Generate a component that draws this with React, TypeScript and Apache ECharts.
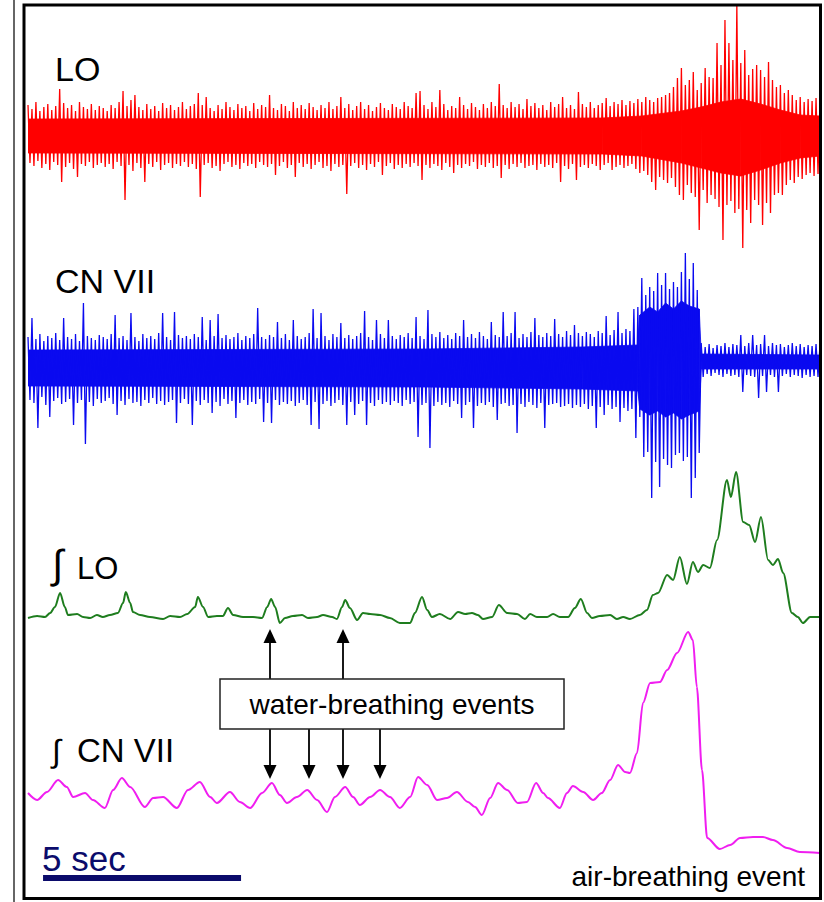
import React, { useEffect, useRef } from "react";
import * as echarts from "echarts";

// ---- raw nerve traces: per 0.1 s bin, max (hi) and min (lo) amplitude (a.u.) ----
const BIN = 0.1;

const loHi = [
  30, 26, 33, 24, 28, 31, 25, 29, 46, 32, 27, 30, 24, 33, 28, 26, 31, 25, 29, 27,
  24, 30, 27, 33, 44, 29, 35, 40, 28, 25, 31, 26, 29, 24, 32, 27, 30, 25, 28, 33,
  26, 29, 31, 42, 30, 38, 27, 24, 30, 26, 33, 28, 25, 31, 27, 29, 24, 32, 26, 30,
  28, 40, 27, 25, 31, 29, 24, 33, 27, 30, 26, 32, 28, 25, 30, 27, 33, 26, 29, 38,
  27, 31, 25, 29, 33, 26, 30, 24, 28, 32, 27, 25, 31, 28, 26, 33, 29, 27, 42, 44,
  30, 26, 33, 28, 45, 31, 25, 29, 27, 38, 30, 26, 32, 28, 25, 31, 27, 33, 29, 51,
  30, 27, 33, 28, 31, 26, 36, 29, 32, 27, 30, 25, 33, 28, 31, 38, 27, 30, 26, 43,
  31, 28, 33, 27, 30, 32, 37, 29, 33, 31, 35, 30, 34, 32, 36, 33, 38, 35, 33, 37,
  38, 40, 42, 48, 57, 67, 50, 55, 63, 45, 52, 67, 58, 57, 92, 70, 115, 92, 75, 130,
  72, 85, 60, 66, 70, 65, 58, 73, 55, 48, 50, 42, 45, 40, 35, 38, 33, 36, 34, 37, 35,
];
const loLo = [
  -28, -31, -26, -33, -29, -35, -27, -30, -47, -32, -28, -34, -42, -29, -31, -27, -33, -30, -28, -32,
  -29, -34, -27, -31, -65, -30, -36, -28, -33, -47, -29, -32, -27, -35, -30, -28, -33, -29, -31, -27,
  -32, -29, -34, -62, -30, -28, -33, -31, -36, -29, -27, -32, -30, -34, -28, -31, -29, -33, -27, -30,
  -32, -29, -40, -31, -27, -33, -30, -42, -28, -32, -29, -34, -30, -27, -33, -31, -36, -29, -32, -30,
  -59, -31, -28, -33, -30, -35, -29, -32, -27, -40, -31, -28, -34, -30, -33, -29, -32, -28, -31, -45,
  -30, -33, -29, -31, -35, -28, -32, -38, -30, -33, -29, -31, -27, -34, -30, -32, -28, -33, -31, -43,
  -30, -34, -29, -32, -28, -33, -31, -30, -35, -29, -32, -30, -33, -28, -47, -31, -34, -29, -45, -32,
  -30, -33, -29, -31, -35, -30, -28, -35, -32, -30, -33, -31, -29, -34, -38, -36, -40, -47, -55, -42,
  -45, -48, -43, -52, -60, -65, -50, -58, -62, -95, -55, -68, -60, -64, -72, -105, -70, -66, -78, -74,
  -113, -75, -88, -65, -70, -90, -68, -78, -60, -58, -60, -50, -45, -48, -42, -44, -40, -38, -41, -39, -38,
];
const loCoreT = [0, 14.5, 15.5, 16.5, 17.0, 17.5, 18, 18.5, 19, 19.5, 20];
const loCoreHi = [16, 17, 19, 24, 28, 33, 36, 31, 25, 20, 19];
const loCoreLo = [-18, -19, -21, -28, -33, -38, -41, -35, -28, -23, -21];

const cnHi = [
  30, 49, 28, 33, 26, 31, 29, 34, 27, 49, 30, 28, 33, 26, 64, 31, 29, 27, 32, 30,
  28, 33, 52, 29, 31, 27, 54, 30, 26, 33, 29, 31, 28, 34, 54, 30, 27, 55, 32, 29,
  31, 28, 33, 30, 50, 27, 47, 31, 53, 29, 32, 28, 30, 34, 27, 31, 29, 33, 59, 30,
  28, 32, 30, 45, 29, 33, 27, 47, 31, 28, 30, 34, 58, 29, 54, 31, 27, 33, 30, 44,
  29, 32, 28, 31, 34, 56, 30, 27, 47, 33, 29, 47, 31, 28, 32, 30, 34, 29, 50, 31,
  28, 57, 33, 30, 35, 29, 32, 28, 34, 31, 47, 30, 33, 29, 35, 31, 28, 45, 32, 30,
  55, 31, 34, 55, 29, 33, 30, 35, 49, 32, 30, 34, 31, 48, 33, 30, 36, 32, 42, 34,
  31, 35, 33, 30, 36, 34, 51, 32, 37, 55, 34, 38, 36, 58, 60, 89, 72, 80, 76, 94,
  82, 94, 78, 85, 80, 95, 114, 88, 104, 77, 24, 20, 23, 19, 22, 21, 24, 20, 23, 22,
  32, 21, 24, 32, 22, 23, 32, 21, 24, 22, 23, 20, 22, 24, 21, 23, 20, 22, 21, 23, 22,
];
const cnLo = [
  -33, -36, -61, -30, -38, -50, -34, -31, -37, -35, -32, -58, -36, -33, -77, -35, -39, -32, -36, -34,
  -31, -37, -48, -34, -38, -32, -36, -35, -39, -33, -36, -31, -37, -34, -38, -35, -33, -56, -36, -32,
  -37, -58, -34, -38, -33, -36, -46, -35, -39, -32, -37, -34, -51, -36, -33, -38, -35, -37, -32, -55,
  -36, -56, -33, -38, -35, -37, -34, -39, -36, -33, -38, -58, -35, -62, -37, -34, -39, -36, -33, -38,
  -58, -35, -48, -37, -34, -58, -36, -39, -33, -37, -35, -38, -34, -36, -39, -33, -37, -35, -70, -38,
  -36, -81, -39, -35, -38, -36, -40, -34, -37, -51, -38, -35, -61, -39, -36, -38, -35, -40, -53, -37,
  -36, -39, -38, -66, -37, -40, -35, -38, -41, -36, -61, -38, -37, -36, -40, -39, -37, -41, -38, -40,
  -37, -42, -39, -61, -40, -48, -38, -42, -40, -55, -41, -44, -42, -71, -50, -90, -85, -131, -95, -120,
  -92, -98, -101, -88, -86, -94, -90, -131, -111, -86, -10, -7, -9, -6, -8, -10, -7, -9, -8, -10,
  -25, -8, -9, -10, -31, -9, -25, -8, -10, -25, -9, -7, -10, -8, -9, -11, -8, -10, -9, -10, -9,
];
const cnCoreT = [0, 10, 14, 15.4, 15.45, 15.7, 15.9, 16.1, 16.3, 16.5, 16.7, 16.95, 17.0, 20];
const cnCoreHi = [17, 18, 20, 22, 52, 60, 55, 64, 58, 66, 61, 58, 13, 12];
const cnCoreLo = [-19, -20, -22, -24, -42, -48, -44, -50, -46, -52, -48, -44, -2, -2];

// ---- integrated LO (time s, value a.u.) ----
const intLoT = [
  0.0, 0.23, 0.43, 0.56, 0.68, 0.81, 0.93, 1.01, 1.24, 1.39,
  1.57, 1.74, 1.89, 2.07, 2.27, 2.4, 2.47, 2.58, 2.65, 2.83,
  3.08, 3.41, 3.59, 3.84, 4.02, 4.22, 4.29, 4.42, 4.55, 4.77,
  4.92, 5.05, 5.18, 5.43, 5.68, 5.91, 6.04, 6.14, 6.24, 6.36,
  6.49, 6.69, 6.92, 7.07, 7.3, 7.45, 7.68, 7.8, 7.93, 8.01,
  8.13, 8.31, 8.46, 8.64, 8.89, 9.14, 9.39, 9.65, 9.77, 9.95,
  10.08, 10.2, 10.4, 10.66, 10.86, 11.04, 11.21, 11.36, 11.49, 11.72,
  11.89, 12.1, 12.35, 12.55, 12.68, 12.85, 13.11, 13.26, 13.43, 13.64,
  13.81, 13.96, 14.12, 14.24, 14.44, 14.7, 14.87, 15.03, 15.2, 15.45,
  15.63, 15.78, 15.91, 16.14, 16.29, 16.46, 16.64, 16.79, 16.92, 17.05,
  17.22, 17.4, 17.65, 17.75, 17.88, 18.06, 18.21, 18.36, 18.51, 18.69,
  18.81, 18.94, 19.07, 19.29, 19.44, 19.57, 19.75, 20.0,
];
const intLoV = [
  2.2, 2.4, 2.3, 2.7, 3.3, 4.7, 3.3, 2.5, 2.6, 2.3,
  2.2, 2.5, 2.3, 2.5, 2.7, 3.7, 4.8, 3.7, 2.8, 2.5,
  2.3, 2.1, 2.4, 2.3, 2.6, 3.3, 4.3, 3.3, 2.3, 2.4,
  2.4, 3.2, 2.5, 2.3, 2.3, 2.2, 3.3, 4.1, 3.3, 1.7,
  2.2, 2.4, 2.5, 2.2, 2.3, 2.5, 2.3, 2.1, 3.3, 4.0,
  3.2, 2.0, 2.7, 2.6, 2.5, 2.2, 1.7, 1.7, 2.7, 4.3,
  3.0, 2.3, 2.6, 2.1, 2.8, 2.6, 2.7, 2.5, 2.1, 2.3,
  3.5, 2.7, 2.6, 2.1, 2.6, 2.3, 2.3, 2.6, 2.3, 2.3,
  3.2, 4.1, 2.7, 2.2, 2.4, 2.5, 2.1, 2.3, 2.1, 2.5,
  3.0, 4.5, 4.7, 6.5, 6.0, 8.3, 5.6, 7.8, 6.8, 7.5,
  7.2, 10.0, 16.0, 14.3, 16.8, 11.8, 11.5, 9.8, 12.3, 8.0,
  7.5, 8.1, 6.7, 2.7, 2.3, 1.7, 2.3, 2.3,
];

// ---- integrated CN VII (time s, value a.u.) ----
const intCnT = [
  0.0, 0.23, 0.48, 0.76, 0.98, 1.14, 1.44, 1.64, 1.94, 2.15,
  2.37, 2.58, 2.95, 3.16, 3.41, 3.76, 4.04, 4.34, 4.6, 4.77,
  5.1, 5.35, 5.61, 5.91, 6.16, 6.36, 6.54, 6.79, 7.05, 7.3,
  7.55, 7.75, 8.01, 8.21, 8.38, 8.64, 8.89, 9.14, 9.39, 9.65,
  9.85, 10.08, 10.33, 10.58, 10.83, 11.11, 11.29, 11.46, 11.67, 11.87,
  12.1, 12.37, 12.6, 12.83, 13.01, 13.13, 13.43, 13.61, 13.76, 14.02,
  14.27, 14.49, 14.7, 14.9, 15.08, 15.2, 15.38, 15.53, 15.71, 15.96,
  16.14, 16.39, 16.67, 16.79, 16.89, 17.02, 17.15, 17.47, 17.73, 17.98,
  18.31, 18.56, 18.81, 19.17, 19.49, 20.0,
];
const intCnV = [
  7.7, 7.0, 7.8, 9.0, 8.3, 7.3, 7.7, 7.0, 6.2, 8.0,
  9.2, 8.3, 6.3, 7.2, 7.3, 6.2, 8.0, 8.8, 7.3, 6.7,
  7.8, 6.8, 6.2, 7.7, 8.7, 7.5, 6.7, 7.3, 8.0, 7.0,
  5.8, 7.3, 8.3, 7.3, 6.5, 7.3, 8.0, 7.3, 6.2, 7.3,
  9.3, 8.5, 7.0, 7.2, 7.8, 6.8, 6.3, 5.5, 7.2, 8.7,
  8.0, 6.7, 6.8, 8.7, 7.7, 7.2, 6.2, 7.7, 8.4, 7.8,
  7.0, 7.7, 9.0, 10.5, 9.8, 9.7, 11.7, 16.7, 18.7, 18.8,
  20.0, 21.7, 23.8, 23.0, 18.3, 10.0, 3.2, 2.1, 2.5, 3.2,
  3.3, 3.3, 3.0, 2.2, 1.8, 1.7,
];

// ---- scale bar (seconds) ----
const scaleBarT = [0.38, 5.38];

const FONT = '"Liberation Sans", Arial, sans-serif';

function zigzag(hi: number[], lo: number[]) {
  const out: number[][] = [];
  for (let i = 0; i < hi.length; i++) {
    out.push([i * BIN, hi[i]]);
    out.push([i * BIN + BIN / 2, lo[i]]);
  }
  return out;
}
function pairs(t: number[], v: number[]) {
  return t.map((x, i) => [x, v[i]]);
}
function bandItems(t: number[], hi: number[], lo: number[]) {
  const items: number[][] = [];
  for (let i = 0; i < t.length - 1; i++) {
    items.push([t[i], hi[i], lo[i], t[i + 1], hi[i + 1], lo[i + 1]]);
  }
  return items;
}
function bandSeries(idx: number, color: string, t: number[], hi: number[], lo: number[]) {
  return {
    type: "custom",
    xAxisIndex: idx,
    yAxisIndex: idx,
    clip: true,
    silent: true,
    data: bandItems(t, hi, lo),
    renderItem: (_p: any, api: any) => {
      const a = api.coord([api.value(0), api.value(1)]);
      const b = api.coord([api.value(3), api.value(4)]);
      const c = api.coord([api.value(3), api.value(5)]);
      const d = api.coord([api.value(0), api.value(2)]);
      return {
        type: "polygon",
        shape: { points: [a, b, c, d] },
        style: { fill: color, stroke: color, lineWidth: 0.8 },
      };
    },
  };
}

export default function App() {
  const ref = useRef<HTMLDivElement>(null);
  useEffect(() => {
    if (!ref.current) return;
    const chart = echarts.init(ref.current, null, { renderer: "svg" });
    const L = 28;
    const W = 792;
    const grids = [
      { left: L, width: W, top: 5, height: 260 },
      { left: L, width: W, top: 232, height: 270 },
      { left: L, width: W, top: 440, height: 200 },
      { left: L, width: W, top: 620, height: 250 },
      { left: L, width: W, top: 870, height: 16 },
    ];
    const yr = [
      [-130, 130],
      [-135, 135],
      [0, 20],
      [0, 25],
      [-1, 1],
    ];
    const red = "#ff0000";
    const blue = "#0a0af0";
    const green = "#1e7d1e";
    const magenta = "#f01ef0";
    const navy = "#0b0b6b";

    const arrowUpX = [270, 343];
    const arrowDownX = [270, 309, 343, 380];
    const arrowEls: any[] = [];
    arrowUpX.forEach((x) => {
      arrowEls.push({ type: "line", shape: { x1: x, y1: 679, x2: x, y2: 641 }, style: { stroke: "#000", lineWidth: 1.8 } });
      arrowEls.push({ type: "polygon", shape: { points: [[x, 629], [x - 6.5, 643], [x + 6.5, 643]] }, style: { fill: "#000" } });
    });
    arrowDownX.forEach((x) => {
      arrowEls.push({ type: "line", shape: { x1: x, y1: 729, x2: x, y2: 767 }, style: { stroke: "#000", lineWidth: 1.8 } });
      arrowEls.push({ type: "polygon", shape: { points: [[x, 779], [x - 6.5, 765], [x + 6.5, 765]] }, style: { fill: "#000" } });
    });

    const txt = (text: string, x: number, y: number, size: number, extra: any = {}) => ({
      type: "text",
      x,
      y,
      z: 10,
      style: {
        text,
        fill: extra.fill || "#000",
        fontSize: size,
        fontFamily: FONT,
        align: extra.align || "left",
        verticalAlign: "middle",
      },
    });

    chart.setOption({
      animation: false,
      backgroundColor: "#ffffff",
      grid: grids.map((g) => ({ ...g, containLabel: false })),
      xAxis: grids.map((_, i) => ({ type: "value", gridIndex: i, min: 0, max: 20, show: false })),
      yAxis: grids.map((_, i) => ({ type: "value", gridIndex: i, min: yr[i][0], max: yr[i][1], show: false })),
      series: [
        bandSeries(1, blue, cnCoreT, cnCoreHi, cnCoreLo),
        {
          type: "line",
          xAxisIndex: 1,
          yAxisIndex: 1,
          data: zigzag(cnHi, cnLo),
          symbol: "none",
          clip: true,
          lineStyle: { color: blue, width: 1.3 },
        },
        bandSeries(0, red, loCoreT, loCoreHi, loCoreLo),
        {
          type: "line",
          xAxisIndex: 0,
          yAxisIndex: 0,
          data: zigzag(loHi, loLo),
          symbol: "none",
          clip: true,
          lineStyle: { color: red, width: 1.3 },
        },
        {
          type: "line",
          xAxisIndex: 2,
          yAxisIndex: 2,
          data: pairs(intLoT, intLoV),
          symbol: "none",
          smooth: 0.3,
          smoothMonotone: "x",
          lineStyle: { color: green, width: 2 },
        },
        {
          type: "line",
          xAxisIndex: 3,
          yAxisIndex: 3,
          data: pairs(intCnT, intCnV),
          symbol: "none",
          smooth: 0.3,
          smoothMonotone: "x",
          lineStyle: { color: magenta, width: 2 },
        },
        {
          type: "line",
          xAxisIndex: 4,
          yAxisIndex: 4,
          data: scaleBarT.map((t) => [t, 0]),
          symbol: "none",
          clip: false,
          lineStyle: { color: navy, width: 6, cap: "butt" },
        },
      ],
      graphic: [
        { type: "line", shape: { x1: 14, y1: 0, x2: 14, y2: 902 }, style: { stroke: "#666", lineWidth: 2 } },
        { type: "rect", shape: { x: 24, y: 5, width: 796.5, height: 893.5 }, style: { fill: "none", stroke: "#000", lineWidth: 3 }, z: 5 },
        txt("LO", 55, 69, 34),
        txt("CN VII", 55, 281, 34),
        txt("\u222B", 52, 564, 40),
        txt("LO", 77, 568, 31),
        txt("\u222B", 52, 751, 32),
        txt("CN VII", 77, 750, 33),
        txt("5 sec", 42, 858, 35, { fill: navy }),
        txt("air-breathing event", 805, 876, 28, { align: "right" }),
        { type: "rect", shape: { x: 220, y: 679, width: 344, height: 50 }, style: { fill: "#fff", stroke: "#222", lineWidth: 1.5 }, z: 8 },
        txt("water-breathing events", 392, 704, 28, { align: "center" }),
        ...arrowEls,
      ],
    });
    return () => chart.dispose();
  }, []);
  return (
    <div
      ref={ref}
      style={{ position: "absolute", left: 0, top: 0, width: 824, height: 902, background: "#fff" }}
    />
  );
}
